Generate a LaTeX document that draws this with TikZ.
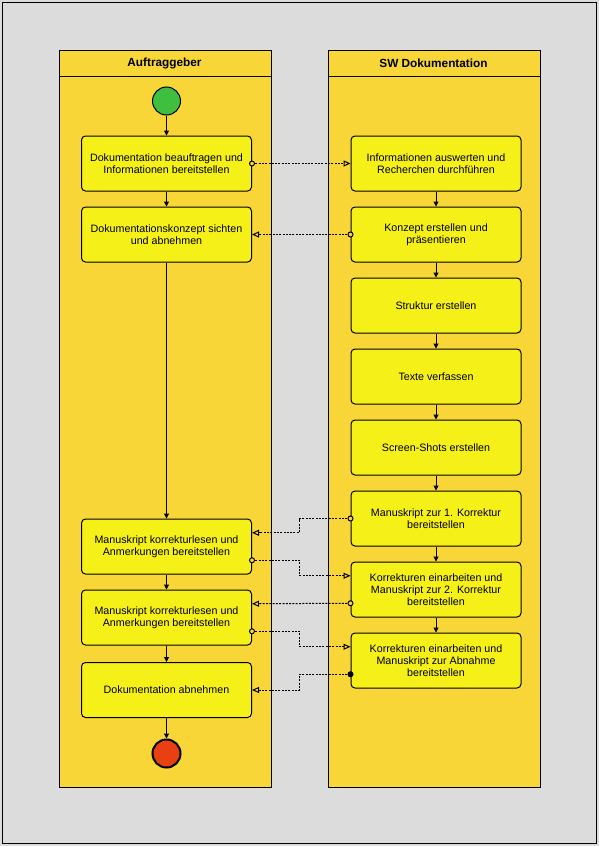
\documentclass[tikz,border=0pt]{standalone}
\usepackage{fontspec}
\setmainfont{Liberation Sans}
\usetikzlibrary{arrows.meta}
\definecolor{bgc}{RGB}{220,220,220}
\definecolor{lanec}{RGB}{248,214,56}
\definecolor{boxc}{RGB}{245,240,24}
\definecolor{startc}{RGB}{64,190,64}
\definecolor{endc}{RGB}{232,64,16}
\begin{document}
\begin{tikzpicture}[x=1pt,y=-1pt,
 lane/.style={draw=black,fill=lanec,line width=1pt},
 act/.style={draw=black,fill=boxc,line width=1pt,rounded corners=4pt,minimum width=170pt,minimum height=55pt,inner sep=0pt,align=center,font=\fontsize{10.7}{11.7}\selectfont},
 flow/.style={line width=1pt,-{Triangle[length=5pt,width=5pt]}},
 msg/.style={line width=1pt,dash pattern=on 2pt off 1.3pt,-{Triangle[length=7pt,width=6pt,fill=lanec]}},
 msgdot/.style={draw=black,fill=lanec,line width=1pt,circle,inner sep=0pt,minimum size=5pt},
 hdr/.style={font=\bfseries\fontsize{11.8}{13}\selectfont}]
\useasboundingbox (0,0) rectangle (599,846);
\fill[bgc] (0,0) rectangle (599,846);
\draw[line width=1pt] (2.5,2.5) rectangle (596.5,843.5);
% lanes
\draw[lane] (59.5,50.5) rectangle (271.5,787.5);
\draw[line width=1pt] (59.5,76.5) -- (271.5,76.5);
\draw[lane] (328.5,50.5) rectangle (540.5,787.5);
\draw[line width=1pt] (328.5,76.5) -- (540.5,76.5);
\node[hdr] (h1) at (164.5,63) {Auftraggeber};
\node[hdr] (h2) at (433.5,63) {SW Dokumentation};
% start / end
\node[circle,draw=black,fill=startc,line width=1pt,minimum size=28pt,inner sep=0pt] (start) at (166.5,101) {};
\node[circle,draw=black,fill=endc,line width=2pt,minimum size=28pt,inner sep=0pt] (end) at (166.5,753.5) {};
% left activities
\node[act] (l1) at (166.5,163.5) {Dokumentation beauftragen und\\Informationen bereitstellen};
\node[act] (l2) at (166.5,234.5) {Dokumentationskonzept sichten\\und abnehmen};
\node[act] (l3) at (166.5,546.5) {Manuskript korrekturlesen und\\Anmerkungen bereitstellen};
\node[act] (l4) at (166.5,617.5) {Manuskript korrekturlesen und\\Anmerkungen bereitstellen};
\node[act] (l5) at (166.5,690) {Dokumentation abnehmen};
% right activities
\node[act] (r1) at (436,163.5) {Informationen auswerten und\\Recherchen durchf\"uhren};
\node[act] (r2) at (436,234.5) {Konzept erstellen und\\pr\"asentieren};
\node[act] (r3) at (436,305.5) {Struktur erstellen};
\node[act] (r4) at (436,376.5) {Texte verfassen};
\node[act] (r5) at (436,447.5) {Screen-Shots erstellen};
\node[act] (r6) at (436,518.5) {Manuskript zur 1. Korrektur\\bereitstellen};
\node[act] (r7) at (436,589.5) {Korrekturen einarbeiten und\\Manuskript zur 2. Korrektur\\bereitstellen};
\node[act] (r8) at (436,660.5) {Korrekturen einarbeiten und\\Manuskript zur Abnahme\\bereitstellen};
% control flow
\draw[flow] (start) -- (l1);
\draw[flow] (l1) -- (l2);
\draw[flow] (l2) -- (l3);
\draw[flow] (l3) -- (l4);
\draw[flow] (l4) -- (l5);
\draw[flow] (l5) -- (end);
\draw[flow] (r1) -- (r2);
\draw[flow] (r2) -- (r3);
\draw[flow] (r3) -- (r4);
\draw[flow] (r4) -- (r5);
\draw[flow] (r5) -- (r6);
\draw[flow] (r6) -- (r7);
\draw[flow] (r7) -- (r8);
% message flows
\coordinate (m) at (299.5,0);
\coordinate (l3in) at ([yshift=13.75pt]l3.east);
\coordinate (l3out) at ([yshift=-13.75pt]l3.east);
\coordinate (l4in) at ([yshift=13.75pt]l4.east);
\coordinate (l4out) at ([yshift=-13.75pt]l4.east);
\coordinate (r7in) at ([yshift=13.75pt]r7.west);
\coordinate (r7out) at ([yshift=-13.75pt]r7.west);
\coordinate (r8in) at ([yshift=13.75pt]r8.west);
\coordinate (r8out) at ([yshift=-13.75pt]r8.west);
\draw[msg] (l1.east) -- (r1.west);
\draw[msg] (r2.west) -- (l2.east);
\draw[msg] (r6.west) -- (r6.west -| m) |- (l3in);
\draw[msg] (l3out) -- (l3out -| m) |- (r7in);
\draw[msg] (r7out) -- (l4in);
\draw[msg] (l4out) -- (l4out -| m) |- (r8in);
\draw[msg] (r8out) -- (r8out -| m) |- (l5.east);
\node[msgdot] (k1) at (l1.east) {};
\node[msgdot] (k2) at (r2.west) {};
\node[msgdot] (k3) at (r6.west) {};
\node[msgdot] (k4) at (l3out) {};
\node[msgdot] (k5) at (r7out) {};
\node[msgdot] (k6) at (l4out) {};
\node[msgdot,fill=black] (k7) at (r8out) {};
\end{tikzpicture}
\end{document}
